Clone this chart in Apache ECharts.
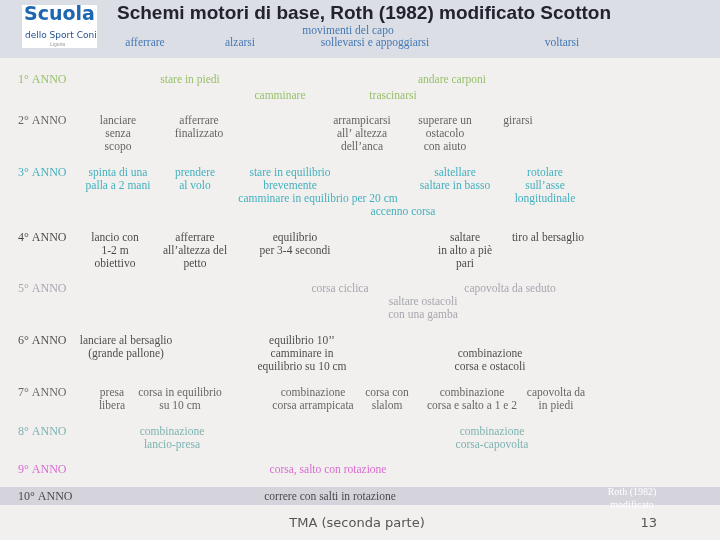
<!DOCTYPE html>
<html>
<head>
<meta charset="utf-8">
<script src="https://cdn.jsdelivr.net/npm/echarts@6/dist/echarts.min.js"></script>
<style>html,body{margin:0;padding:0;background:#f1f0ee}#main{width:720px;height:540px}</style>
</head>
<body>
<div id="main"></div>
<script>
var yearLabels = ['1° ANNO','2° ANNO','3° ANNO','4° ANNO','5° ANNO','6° ANNO','7° ANNO','8° ANNO','9° ANNO','10° ANNO'];
var yearY = [80,121,173,238,289,341,393,432,470,497];
var yearColors = ['#7fb347','#3f3f3f','#17a0b3','#1a1a1a','#95949f','#262626','#444444','#5fa3a2','#d24acb','#262626'];

// [x, y, testo] per anno
var headerItems = [[145,43,'afferrare'],[240,43,'alzarsi'],[348,31,'movimenti del capo'],[375,43,'sollevarsi e appoggiarsi'],[562,43,'voltarsi']];
var yearItems = [
    [[190,80,'stare in piedi'],[280,96,'camminare'],[393,96,'trascinarsi'],[452,80,'andare carponi']],
    [[118,121,'lanciare\nsenza\nscopo'],[199,121,'afferrare\nfinalizzato'],[362,121,'arrampicarsi\nall’ altezza\ndell’anca'],[445,121,'superare un\nostacolo\ncon aiuto'],[518,121,'girarsi']],
    [[118,173,'spinta di una\npalla a 2 mani'],[195,173,'prendere\nal volo'],[290,173,'stare in equilibrio\nbrevemente'],[318,199,'camminare in equilibrio per 20 cm'],[403,212,'accenno corsa'],[455,173,'saltellare\nsaltare in basso'],[545,173,'rotolare\nsull’asse\nlongitudinale']],
    [[115,238,'lancio con\n1-2 m\nobiettivo'],[195,238,'afferrare\nall’altezza del\npetto'],[295,238,'equilibrio\nper 3-4 secondi'],[465,238,'saltare\nin alto a piè\npari'],[548,238,'tiro al bersaglio']],
    [[340,289,'corsa ciclica'],[510,289,'capovolta da seduto'],[423,302,'saltare ostacoli\ncon una gamba']],
    [[126,341,'lanciare al bersaglio\n(grande pallone)'],[302,341,'equilibrio 10’’\ncamminare in\nequilibrio su 10 cm'],[490,354,'combinazione\ncorsa e ostacoli']],
    [[112,393,'presa\nlibera'],[180,393,'corsa in equilibrio\nsu 10 cm'],[313,393,'combinazione\ncorsa arrampicata'],[387,393,'corsa con\nslalom'],[472,393,'combinazione\ncorsa e salto a 1 e 2'],[556,393,'capovolta da\nin piedi']],
    [[172,432,'combinazione\nlancio-presa'],[492,432,'combinazione\ncorsa-capovolta']],
    [[328,470,'corsa, salto con rotazione']],
    [[330,497,'correre con salti in rotazione']]
];

var serif = '"Liberation Serif", "DejaVu Serif", serif';
function textSeries(data, color) {
    return {
        type: 'scatter', symbolSize: 0, silent: true, data: data,
        label: {
            show: true, position: 'bottom', distance: 0, offset: [0, -7],
            formatter: function (p) { return p.data[2]; },
            color: color, fontFamily: serif, fontSize: 11.5, lineHeight: 13, align: 'center'
        }
    };
}

var series = [textSeries(headerItems, '#1d5ea6')];
yearItems.forEach(function (items, i) { series.push(textSeries(items, yearColors[i])); });
series.push({
    type: 'scatter', symbolSize: 0, silent: true,
    data: yearLabels.map(function (t, i) {
        return { value: [18, yearY[i], t], label: { color: yearColors[i] } };
    }),
    label: {
        show: true, position: 'right', distance: 0,
        formatter: function (p) { return p.value[2]; },
        fontFamily: serif, fontSize: 12
    }
});

var chart = echarts.init(document.getElementById('main'));
chart.setOption({
    backgroundColor: '#f1f0ee',
    animation: false,
    grid: { left: 0, right: 0, top: 0, bottom: 0 },
    xAxis: { type: 'value', min: 0, max: 720, show: false },
    yAxis: { type: 'value', min: 0, max: 540, inverse: true, show: false },
    graphic: [
        { type: 'rect', shape: { x: 0, y: 0, width: 720, height: 58 }, style: { fill: '#dcdee6' }, z: -10 },
        { type: 'rect', shape: { x: 0, y: 487, width: 720, height: 18 }, style: { fill: '#b9b8cc', opacity: 0.5 }, z: -10 },
        { type: 'rect', shape: { x: 22, y: 5, width: 75, height: 43 }, style: { fill: '#ffffff' } },
        { type: 'text', x: 24, y: 6, style: { text: 'Scuola', font: 'bold 19px "DejaVu Sans", sans-serif', fill: '#1f66b0' } },
        { type: 'text', x: 25, y: 31, style: { text: 'dello Sport Coni', font: '9px "DejaVu Sans", sans-serif', fill: '#1f4f8f' } },
        { type: 'text', x: 50, y: 42, style: { text: 'Liguria', font: '5px sans-serif', fill: '#999' } },
        { type: 'text', x: 117, y: 4, style: { text: 'Schemi motori di base, Roth (1982) modificato Scotton', font: 'bold 19px "Liberation Sans", "Open Sans", sans-serif', fill: '#23232f' } },
        { type: 'text', x: 357, y: 517, style: { text: 'TMA (seconda parte)', font: '13px "DejaVu Sans", sans-serif', fill: '#555', align: 'center' } },
        { type: 'text', x: 657, y: 517, style: { text: '13', font: '13px "DejaVu Sans", sans-serif', fill: '#555', align: 'right' } },
        { type: 'text', x: 632, y: 486, style: { text: 'Roth (1982)\nmodificato', font: '10px ' + serif, fill: '#ffffff', align: 'center', lineHeight: 13 } }
    ],
    series: series
});
</script>
</body>
</html>
